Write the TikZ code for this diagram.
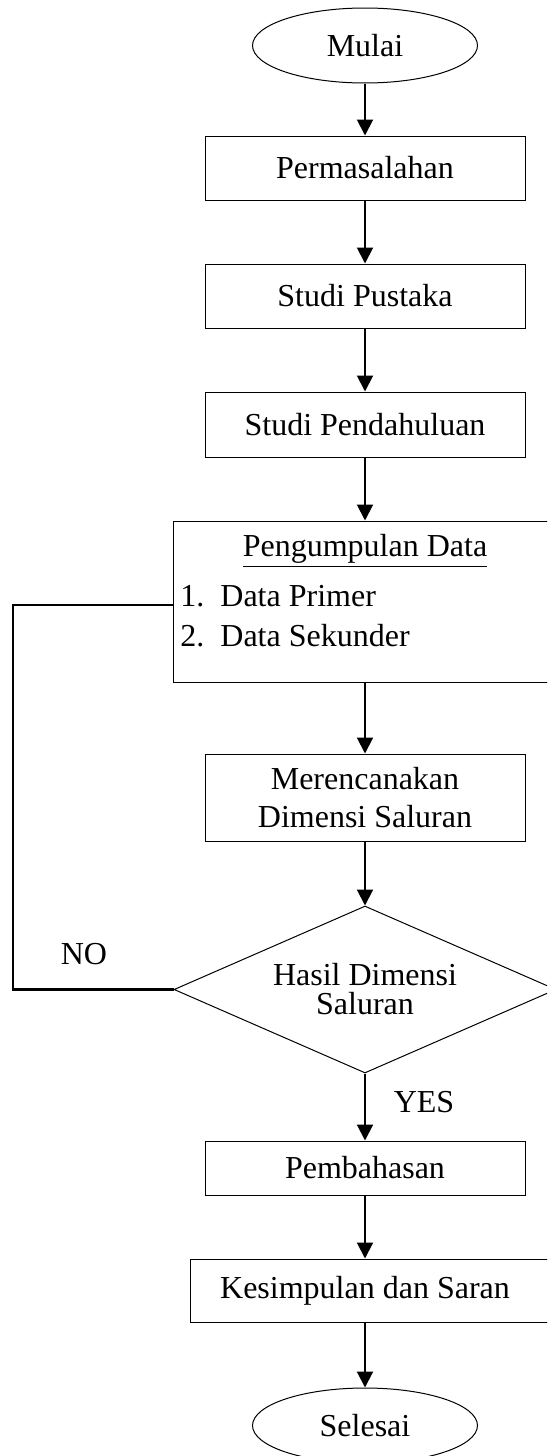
\documentclass[tikz,border=0pt]{standalone}
\usepackage{fontspec}
\setmainfont{Liberation Serif}
\usetikzlibrary{shapes.geometric,arrows.meta}
\begin{document}
\begin{tikzpicture}[x=0.5pt,y=-0.5pt,
  box/.style={draw, line width=0.5pt, rectangle, inner sep=0pt, minimum width=160pt,
    font=\fontsize{16}{19}\selectfont, align=center},
  term/.style={draw, line width=0.5pt, ellipse, inner sep=0pt, minimum width=112.5pt,
    minimum height=37.5pt, font=\fontsize{16}{19}\selectfont},
  lbl/.style={font=\fontsize{16}{19}\selectfont, inner sep=0pt},
  arr/.style={line width=1pt, -{Triangle[length=8pt,width=8pt]}},
  loopline/.style={line width=1.2pt},
]
\useasboundingbox (0,0) rectangle (547,1456);
\clip (0,0) rectangle (547,1456);

\node[term] (mulai) at (365,45.5) {Mulai};
\node[box, minimum height=32pt] (perm) at (365,168) {Permasalahan};
\node[box, minimum height=32pt] (pust) at (365,296) {Studi Pustaka};
\node[box, minimum height=32.5pt] (pend) at (365,424.5) {Studi Pendahuluan};

\node[box, minimum width=193.5pt, minimum height=80.5pt] (peng) at (366.5,601.5) {};
\node[lbl] (pengt) at (365,551) {\underline{Pengumpulan Data}};
\node[lbl, anchor=west] (n1) at (180,596) {1.};
\node[lbl, anchor=west] (d1) at (220,596) {Data Primer};
\node[lbl, anchor=west] (n2) at (180,636) {2.};
\node[lbl, anchor=west] (d2) at (220,636) {Data Sekunder};

\node[box, minimum height=43.5pt] (ren) at (365,797.5) {Merencanakan\\Dimensi Saluran};

\node[draw, line width=0.5pt, diamond, shape aspect=2.3, inner sep=0pt,
  minimum width=191pt, minimum height=83.5pt, align=center,
  font=\fontsize{16}{14.5}\selectfont] (hasil) at (365,989.5) {Hasil Dimensi\\Saluran};

\node[box, minimum height=27pt] (bahas) at (365,1168) {Pembahasan};
\node[box, minimum width=185pt, minimum height=31.5pt] (kes) at (375,1290.5) {};
\node[lbl] (kest) at (365,1290.5) {Kesimpulan dan Saran};
\node[term] (selesai) at (365,1425.5) {Selesai};

\node[lbl] (no) at (84,954) {NO};
\node[lbl] (yes) at (424,1102) {YES};

\draw[arr] (mulai) -- (perm);
\draw[arr] (perm) -- (pust);
\draw[arr] (pust) -- (pend);
\draw[arr] (pend.south) -- (pend.south |- peng.north);
\draw[arr] (ren.north |- peng.south) -- (ren.north);
\draw[arr] (ren.south) -- (hasil.north);
\draw[arr] (hasil.south) -- (bahas.north);
\draw[arr] (bahas.south) -- (bahas.south |- kes.north);
\draw[arr] (selesai.north |- kes.south) -- (selesai.north);

\coordinate (nocorner) at (13,605);
\draw[loopline] (hasil.west) -| (nocorner) -- (peng.west |- nocorner);
\end{tikzpicture}
\end{document}
